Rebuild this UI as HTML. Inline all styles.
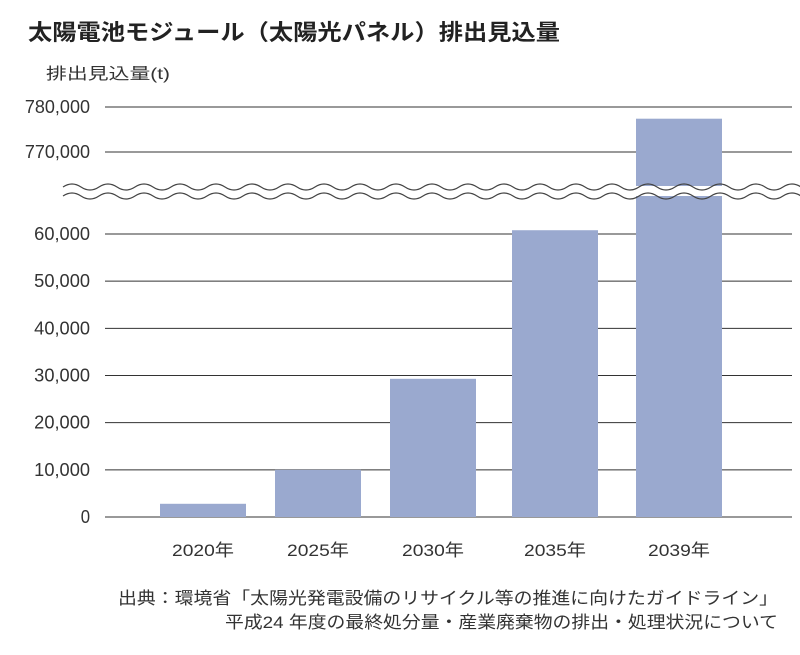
<!DOCTYPE html>
<html><head><meta charset="utf-8"><style>
body{margin:0;background:#fff;font-family:"Liberation Sans","Noto Sans CJK JP",sans-serif;}
</style></head><body>
<svg width="800" height="650" xmlns="http://www.w3.org/2000/svg" font-family="Liberation Sans, Noto Sans CJK JP, sans-serif">
<text x="28" y="40" font-size="22" font-weight="bold" fill="#222" textLength="532" lengthAdjust="spacingAndGlyphs">太陽電池モジュール（太陽光パネル）排出見込量</text>
<text x="46" y="79" font-size="16" fill="#333" textLength="124" lengthAdjust="spacingAndGlyphs">排出見込量(t)</text>
<g id="grid"></g><g id="bars"></g><g id="brk"></g><g id="labels"></g>
<text x="118" y="604" font-size="17" fill="#333" textLength="660" lengthAdjust="spacingAndGlyphs">出典：環境省「太陽光発電設備のリサイクル等の推進に向けたガイドライン」</text>
<text x="225" y="628" font-size="17" fill="#333" textLength="553" lengthAdjust="spacingAndGlyphs">平成24 年度の最終処分量・産業廃棄物の排出・処理状況について</text>
</svg>
<script>
const categories=["2020年","2025年","2030年","2035年","2039年"];
const values=[2800,10000,29300,60800,777400];
const lowTicks=[0,10000,20000,30000,40000,50000,60000];
const highTicks=[770000,780000];
const NS="http://www.w3.org/2000/svg";
function yLow(v){return 517-v*(283/60000);}
function yHigh(v){return 152-(v-770000)*(45/10000);}
function y(v){return v>=700000?yHigh(v):yLow(v);}
function mk(t,a,p){const e=document.createElementNS(NS,t);for(const k in a)e.setAttribute(k,a[k]);p.appendChild(e);return e;}
const grid=document.getElementById('grid'),bars=document.getElementById('bars'),brk=document.getElementById('brk'),lab=document.getElementById('labels');
function tick(v,yy){
 const l=mk('line',{x1:105,x2:792,y1:yy,y2:yy,stroke:'#333','stroke-width':1},grid);
 
 const s=v.toLocaleString('en-US');
 const t=mk('text',{x:90,y:yy+6,'font-size':18,fill:'#333','text-anchor':'end',textLength:s.length*9.3,lengthAdjust:'spacingAndGlyphs'},lab);
 t.textContent=s;
 
}
lowTicks.forEach(v=>tick(v,yLow(v)));
highTicks.forEach(v=>tick(v,yHigh(v)));
const bw=86;
const xs=[160,275,390,512,636];
categories.forEach((c,i)=>{
 const x=xs[i]!==undefined?xs[i]:160+i*119;
 const top=y(values[i]);
 const r=mk('rect',{x:x,y:top,width:bw,height:517-top,fill:'#9aa9cf'},bars);
 
 const t=mk('text',{x:x+bw/2,y:556,'font-size':17,fill:'#333','text-anchor':'middle',textLength:62,lengthAdjust:'spacingAndGlyphs'},lab);
 t.textContent=c;
 
});
function wave(off){let d='M63 '+(off);for(let x=63;x<790;x+=36){d+=` q9 -6 18 0 q9 6 18 0`;}return d;}
const band=mk('rect',{x:63,y:186,width:727,height:10,fill:'#fff'},brk);

[187,196].forEach(o=>{const p=mk('path',{d:wave(o),fill:'none',stroke:'#444','stroke-width':1.2},brk);
 });
</script>
</body></html>
